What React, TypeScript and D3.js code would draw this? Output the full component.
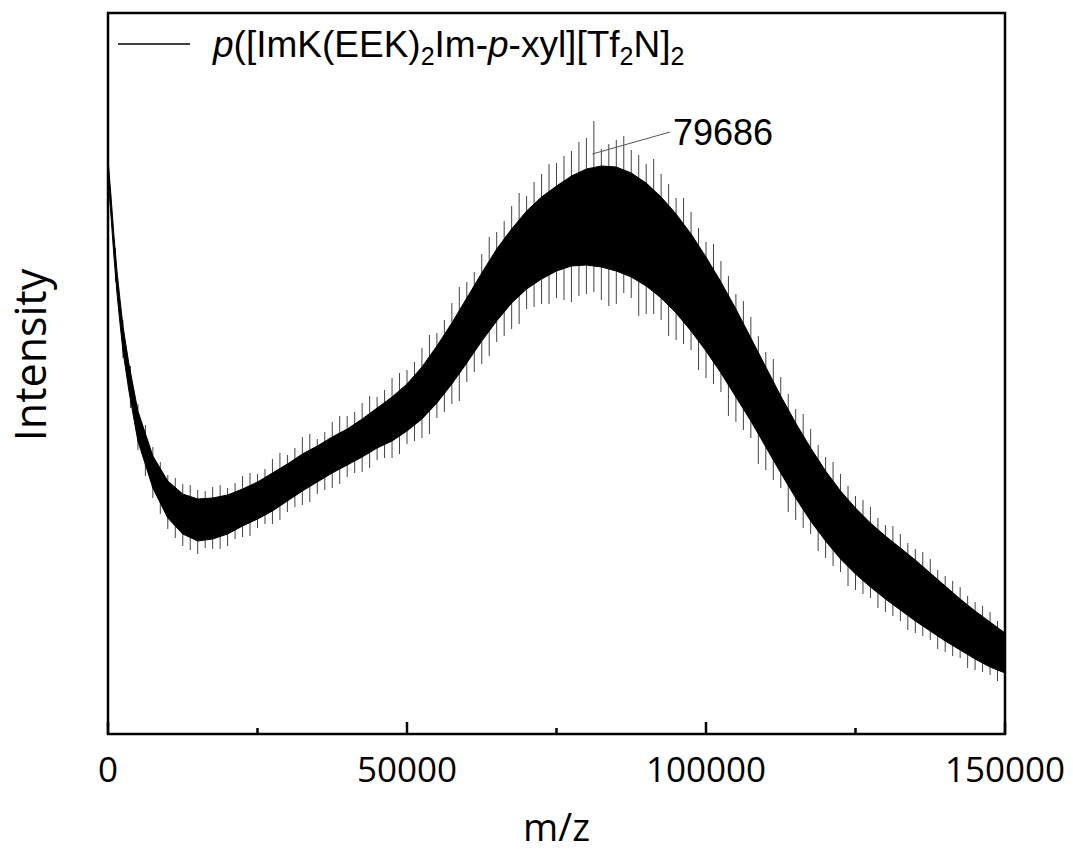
import React, { useRef, useEffect } from 'react';
import * as d3 from 'd3';

const mzPoints = [0, 500, 1000, 1500, 2000, 2500, 3500, 5000,
  7500, 10000, 12500, 15000, 17500, 20000, 22500, 25000,
  27500, 30000, 32500, 35000, 37500, 40000, 42500, 45000, 47500, 50000,
  52500, 55000, 57500, 60000, 62500, 65000, 67500, 70000, 72500, 75000,
  77500, 80000, 82500, 85000, 87500, 90000, 92500, 95000, 97500, 100000,
  102500, 105000, 107500, 110000, 112500, 115000, 117500, 120000, 122500, 125000,
  127500, 130000, 132500, 135000, 137500, 140000, 142500, 145000, 147500, 150000];

// top and bottom of the dense band (a.u.)
const bandHigh = [575, 538, 498, 463, 435, 408, 370, 323,
  278, 253, 240, 235, 236, 239, 245, 252,
  261, 270, 280, 288, 297, 305, 315, 326, 337, 350,
  367, 388, 411, 436, 461, 485, 505, 523, 537, 548,
  558, 565, 568, 567, 561, 551, 537, 520, 500, 477,
  452, 425, 396, 367, 338, 311, 286, 263, 243, 226,
  211, 198, 186, 174, 161, 148, 135, 123, 112, 101];
const bandLow = [557, 518, 477, 441, 411, 383, 343, 293,
  246, 216, 200, 193, 195, 200, 208, 215,
  223, 233, 243, 252, 261, 269, 277, 286, 293, 303,
  315, 331, 350, 371, 393, 413, 431, 445, 455, 463,
  468, 469, 467, 463, 457, 448, 436, 421, 403, 383,
  361, 337, 313, 287, 261, 236, 213, 193, 175, 160,
  147, 135, 124, 113, 103, 93, 84, 75, 67, 61];

// noise spikes sticking out of the band, first set (between band points)
const spikeMzA = [1250, 3750, 6250, 8750, 11250, 13750, 16250, 18750, 21250, 23750,
  26250, 28750, 31250, 33750, 36250, 38750, 41250, 43750, 46250, 48750,
  51250, 53750, 56250, 58750, 61250, 63750, 66250, 68750, 71250, 73750,
  76250, 78750, 81250, 83750, 86250, 88750, 91250, 93750, 96250, 98750,
  101250, 103750, 106250, 108750, 111250, 113750, 116250, 118750, 121250, 123750,
  126250, 128750, 131250, 133750, 136250, 138750, 141250, 143750, 146250, 148750];
const spikeHighA = [486, 368, 309, 272, 256, 249, 243, 249, 251, 261,
  265, 281, 286, 300, 302, 318, 322, 338, 344, 361,
  372, 399, 414, 447, 462, 497, 513, 541, 552, 570,
  578, 592, 613, 590, 598, 579, 575, 550, 536, 506,
  490, 458, 433, 398, 375, 340, 320, 289, 272, 248,
  234, 216, 208, 191, 182, 164, 153, 138, 128, 113];
const spikeLowA = [452, 326, 258, 220, 196, 184, 186, 185, 195, 198,
  210, 214, 227, 232, 244, 250, 261, 266, 276, 280,
  293, 300, 322, 333, 362, 378, 398, 410, 427, 430,
  434, 438, 442, 428, 441, 418, 420, 398, 390, 364,
  350, 318, 304, 270, 254, 222, 206, 183, 168, 148,
  140, 126, 118, 104, 98, 85, 78, 66, 62, 53];

// second set of spikes (on the band points)
const spikeMzB = [2500, 5000, 7500, 10000, 12500, 15000, 17500, 20000, 22500, 25000,
  27500, 30000, 32500, 35000, 37500, 40000, 42500, 45000, 47500, 50000,
  52500, 55000, 57500, 60000, 62500, 65000, 67500, 70000, 72500, 75000,
  77500, 80000, 82500, 85000, 87500, 90000, 92500, 95000, 97500, 100000,
  102500, 105000, 107500, 110000, 112500, 115000, 117500, 120000, 122500, 125000,
  127500, 130000, 132500, 135000, 137500, 140000, 142500, 145000, 147500];
const spikeHighB = [414, 330, 287, 259, 250, 244, 247, 246, 258, 260,
  275, 279, 297, 295, 312, 318, 331, 337, 356, 364,
  386, 401, 431, 452, 480, 502, 528, 538, 560, 571,
  583, 596, 585, 594, 584, 570, 560, 536, 522, 492,
  473, 440, 417, 382, 357, 325, 305, 277, 260, 238,
  227, 209, 200, 185, 175, 158, 147, 132, 122];
const spikeLowB = [376, 284, 236, 205, 188, 180, 185, 188, 197, 206,
  210, 222, 229, 240, 246, 257, 262, 274, 276, 290,
  296, 316, 330, 352, 370, 392, 405, 425, 430, 436,
  432, 440, 434, 430, 436, 420, 414, 394, 384, 356,
  342, 312, 296, 264, 246, 214, 200, 176, 162, 144,
  136, 122, 113, 101, 94, 82, 76, 64, 59];

const majorTicks = [0, 50000, 100000, 150000];
const minorTicks = [25000, 75000, 125000];

// legend name in pieces: n = normal, i = italic, s = subscript
const seriesName: [string, string][] = [
  ['p', 'i'], ['([ImK(EEK)', 'n'], ['2', 's'], ['Im-', 'n'], ['p', 'i'],
  ['-xyl][Tf', 'n'], ['2', 's'], ['N]', 'n'], ['2', 's'],
];
const peakMz = 79686;

const width = 1073;
const height = 852;

const App = () => {
  const svgRef = useRef<SVGSVGElement>(null);

  useEffect(() => {
    const margin = { top: 13, right: 68, bottom: 118, left: 108 };
    const innerW = width - margin.left - margin.right;
    const innerH = height - margin.top - margin.bottom;

    const svg = d3.select(svgRef.current);
    svg.selectAll('*').remove();

    const x = d3.scaleLinear().domain([0, 150000]).range([margin.left, margin.left + innerW]);
    const y = d3.scaleLinear().domain([0, 721]).range([margin.top + innerH, margin.top]);

    const band = mzPoints.map((m, i) => ({ m, hi: bandHigh[i], lo: bandLow[i] }));
    const spikes = spikeMzA.map((m, i) => ({ m, hi: spikeHighA[i], lo: spikeLowA[i] }))
      .concat(spikeMzB.map((m, i) => ({ m, hi: spikeHighB[i], lo: spikeLowB[i] })));

    // spikes first, band on top
    svg.append('g')
      .selectAll('line')
      .data(spikes)
      .join('line')
      .attr('x1', d => x(d.m))
      .attr('x2', d => x(d.m))
      .attr('y1', d => y(d.hi))
      .attr('y2', d => y(d.lo))
      .attr('stroke', '#444')
      .attr('stroke-width', 1);

    svg.append('path')
      .datum(band)
      .attr('fill', '#000')
      .attr('stroke', '#000')
      .attr('stroke-width', 1)
      .attr('d', d3.area<any>()
        .x(d => x(d.m))
        .y0(d => y(d.lo))
        .y1(d => y(d.hi)));

    // frame
    svg.append('rect')
      .attr('x', margin.left)
      .attr('y', margin.top)
      .attr('width', innerW)
      .attr('height', innerH)
      .attr('fill', 'none')
      .attr('stroke', '#000')
      .attr('stroke-width', 2.5);

    // ticks point inwards
    const axisY = margin.top + innerH;
    svg.append('g')
      .selectAll('line')
      .data(majorTicks)
      .join('line')
      .attr('x1', d => x(d)).attr('x2', d => x(d))
      .attr('y1', axisY).attr('y2', axisY - 12)
      .attr('stroke', '#000').attr('stroke-width', 2.5);
    svg.append('g')
      .selectAll('line')
      .data(minorTicks)
      .join('line')
      .attr('x1', d => x(d)).attr('x2', d => x(d))
      .attr('y1', axisY).attr('y2', axisY - 6)
      .attr('stroke', '#000').attr('stroke-width', 2.5);

    svg.append('g')
      .selectAll('text')
      .data(majorTicks)
      .join('text')
      .attr('x', d => x(d))
      .attr('y', 782)
      .attr('text-anchor', 'middle')
      .style('font-family', '"Open Sans", sans-serif')
      .style('font-size', '35px')
      .text(d => String(d));

    // axis titles
    svg.append('text')
      .attr('x', margin.left + innerW / 2)
      .attr('y', 841)
      .attr('text-anchor', 'middle')
      .style('font-family', '"Open Sans", sans-serif')
      .style('font-size', '38px')
      .text('m/z');

    svg.append('text')
      .attr('transform', `translate(46, 355) rotate(-90)`)
      .attr('text-anchor', 'middle')
      .style('font-family', '"Open Sans", sans-serif')
      .style('font-size', '43px')
      .text('Intensity');

    // legend
    svg.append('line')
      .attr('x1', 118).attr('x2', 190)
      .attr('y1', 44).attr('y2', 44)
      .attr('stroke', '#000').attr('stroke-width', 1.5);

    const legend = svg.append('text')
      .attr('x', 213)
      .attr('y', 57)
      .style('font-family', '"Liberation Sans", Arial, sans-serif')
      .style('font-size', '37px');
    seriesName.forEach(([t, k], i) => {
      const prev = i > 0 ? seriesName[i - 1][1] : 'n';
      const span = legend.append('tspan').text(t);
      if (k === 'i') span.style('font-style', 'italic');
      if (k === 's') span.attr('dy', 8).style('font-size', '25px');
      else if (prev === 's') span.attr('dy', -8);
    });

    // peak label
    svg.append('line')
      .attr('x1', x(81000)).attr('y1', y(580))
      .attr('x2', 670).attr('y2', 132)
      .attr('stroke', '#555').attr('stroke-width', 1);
    svg.append('text')
      .attr('x', 673)
      .attr('y', 145)
      .style('font-family', '"Liberation Sans", Arial, sans-serif')
      .style('font-size', '36px')
      .text(String(peakMz));
  }, []);

  return (
    <svg ref={svgRef} width={width} height={height}
      style={{ position: 'absolute', left: 0, top: 0, background: '#fff' }} />
  );
};

export default App;
